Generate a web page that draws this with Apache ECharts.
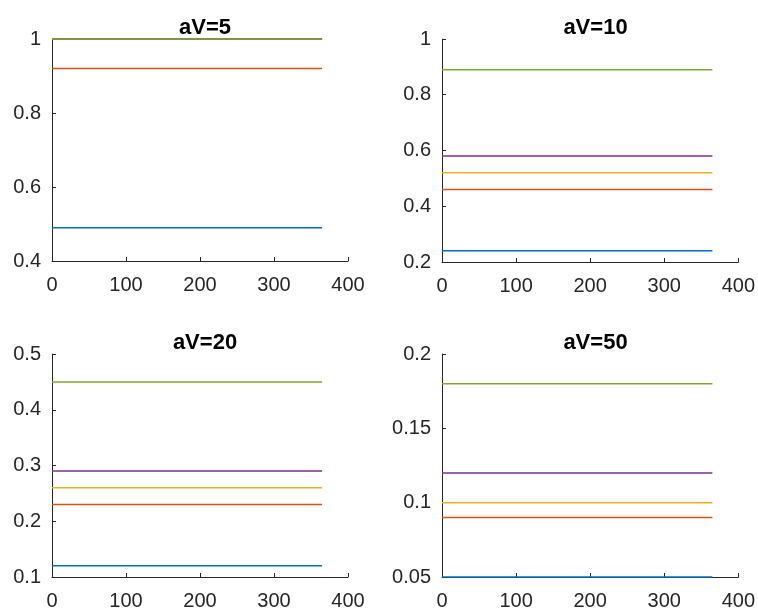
<!DOCTYPE html>
<html>
<head>
<meta charset="utf-8">
<script src="https://cdn.jsdelivr.net/npm/echarts@6/dist/echarts.min.js"></script>
<style>html,body{margin:0;padding:0;background:#fff}#c{width:758px;height:614px}</style>
</head>
<body>
<div id="c"></div>
<script>
// x extent of each constant line (days)
const xDays = [0, 365];
// panel titles
const titles = ['aV=5', 'aV=10', 'aV=20', 'aV=50'];
// series values per panel (series order: 1..5)
const aV5 = [0.49, 0.92, 1.00, 1.00, 1.00];
const aV10 = [0.24, 0.46, 0.52, 0.58, 0.89];
const aV20 = [0.12, 0.23, 0.26, 0.29, 0.45];
const aV50 = [0.05, 0.09, 0.10, 0.12, 0.18];
const panelValues = [aV5, aV10, aV20, aV50];
// axis tick settings
const xTicks = [0, 100, 200, 300, 400];
const yMin = [0.4, 0.2, 0.1, 0.05];
const yMax = [1, 1, 0.5, 0.2];
const yStep = [0.2, 0.2, 0.1, 0.05];

const colors = ['#0072BD', '#D95319', '#EDB120', '#7E2F8E', '#77AC30'];
const grids = [
  {left: 52, top: 39, width: 296, height: 222},
  {left: 442, top: 39, width: 297, height: 223},
  {left: 52, top: 354, width: 296, height: 223},
  {left: 442, top: 354, width: 297, height: 223}
];
const font = 'Liberation Sans, Arial, Helvetica, sans-serif';
const ink = '#262626';

const option = {
  backgroundColor: '#fff',
  animation: false,
  title: titles.map((t, i) => ({
    text: t,
    left: grids[i].left + grids[i].width / 2,
    top: i < 2 ? 12 : 327,
    textAlign: 'center',
    textStyle: {fontFamily: font, fontSize: 22, fontWeight: 'bold', color: '#000'}
  })),
  grid: grids,
  xAxis: grids.map((g, i) => ({
    type: 'value', gridIndex: i,
    min: xTicks[0], max: xTicks[xTicks.length - 1], interval: xTicks[1] - xTicks[0],
    axisLine: {show: true, lineStyle: {color: ink, width: 1}},
    axisTick: {show: true, inside: true, length: 4, lineStyle: {color: ink}},
    axisLabel: {fontFamily: font, fontSize: 20, color: ink, margin: 14},
    splitLine: {show: false}
  })),
  yAxis: grids.map((g, i) => ({
    type: 'value', gridIndex: i,
    min: yMin[i], max: yMax[i], interval: yStep[i],
    axisLine: {show: true, lineStyle: {color: ink, width: 1}},
    axisTick: {show: true, inside: true, length: 4, lineStyle: {color: ink}},
    axisLabel: {fontFamily: font, fontSize: 20, color: ink, margin: 11},
    splitLine: {show: false}
  })),
  series: []
};
panelValues.forEach((vals, p) => {
  vals.forEach((v, s) => {
    option.series.push({
      type: 'line', xAxisIndex: p, yAxisIndex: p,
      data: xDays.map(x => [x, v]),
      showSymbol: false, symbol: 'none', clip: false,
      lineStyle: {color: colors[s], width: 1.5},
      itemStyle: {color: colors[s]},
      z: 3
    });
  });
});
const chart = echarts.init(document.getElementById('c'), null, {renderer: 'canvas'});
chart.setOption(option);
</script>
</body>
</html>
